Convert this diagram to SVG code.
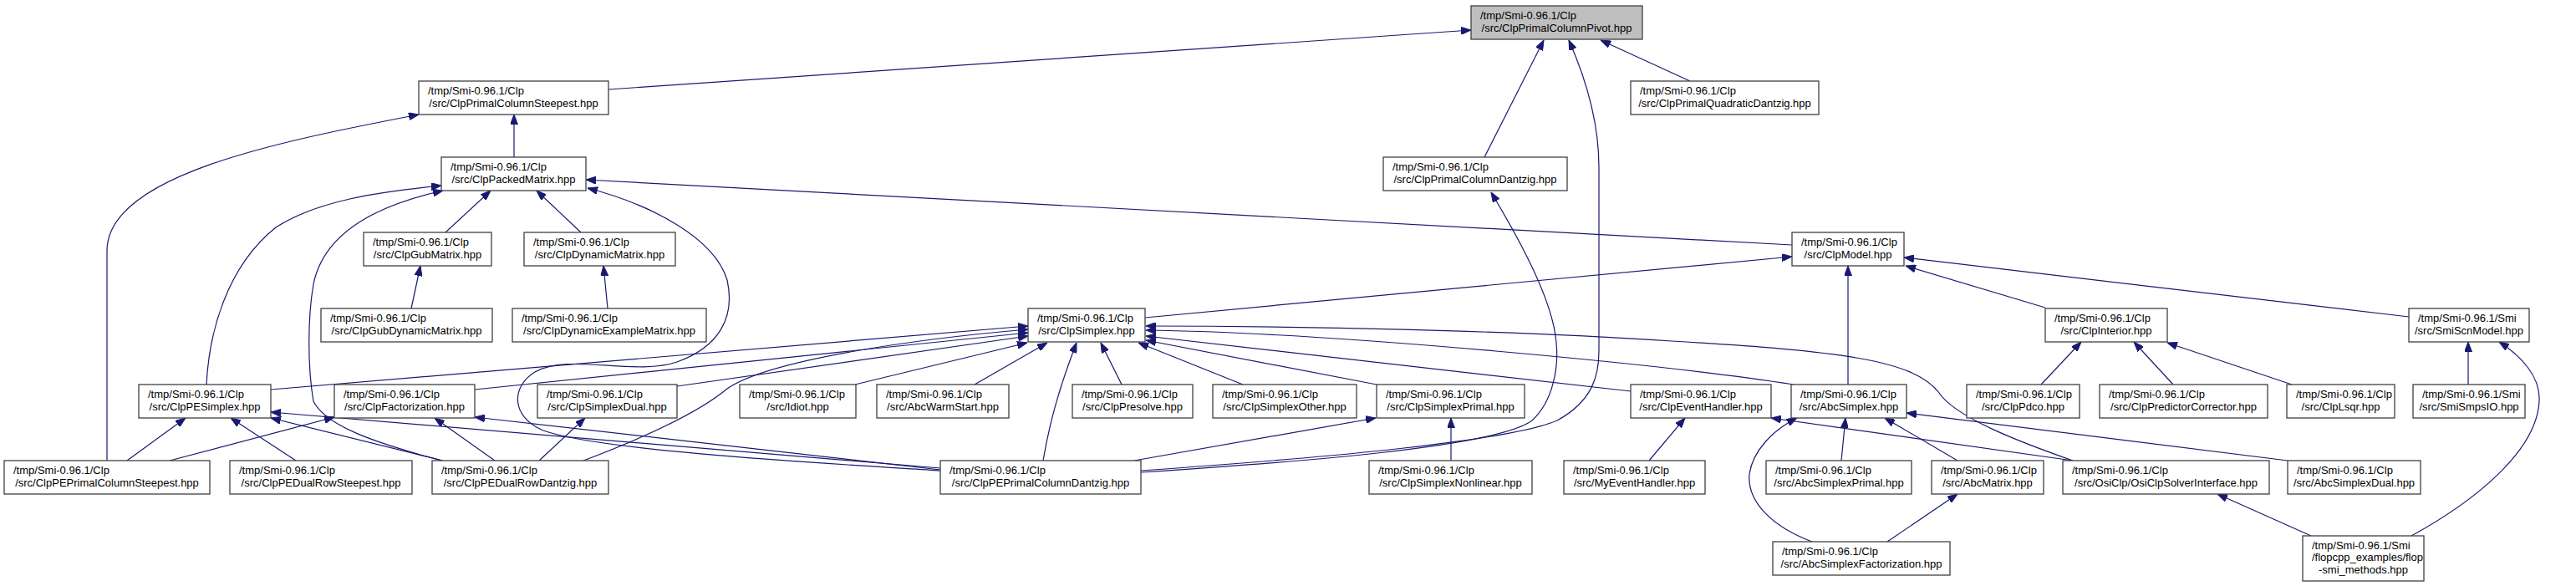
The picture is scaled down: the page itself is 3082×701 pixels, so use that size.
<svg xmlns="http://www.w3.org/2000/svg" width="3082" height="701" viewBox="0 0 3082 701">
<style>
.n rect{fill:#ffffff;stroke:#404040;stroke-width:1.3}
.n.root rect{fill:#bfbfbf}
.n text{font-family:"Liberation Sans",Arial,Helvetica,sans-serif;font-size:13px;fill:#000}
.n text.c{text-anchor:middle}
.e path{fill:none;stroke:#191970;stroke-width:1.2;marker-end:url(#ah)}
</style>
<defs>
<marker id="ah" viewBox="0 0 12 9" refX="12" refY="4.5" markerWidth="12" markerHeight="9" markerUnits="userSpaceOnUse" orient="auto">
<path d="M0,0 L12,4.5 L0,9 z" fill="#191970" stroke="#191970" stroke-width="1"/>
</marker>
</defs>
<rect x="0" y="0" width="3082" height="701" fill="#ffffff"/>
<g id="edges" class="e">
<path d="M728,107 L1760,36"/>
<path d="M1776,188 L1847,48"/>
<path d="M2022,97 L1915,48"/>
<path d="M1365,563 C1550,550 1800,530 1863,503 C1905,480 1913,450 1913,420 L1913,200 C1913,150 1900,100 1877,48"/>
<path d="M1365,565 C1550,553 1790,535 1833,503 C1858,480 1865,440 1862,410 C1858,360 1820,290 1784,230"/>
<path d="M615,188 L615,137"/>
<path d="M128,551 L128,300 C128,210 330,170 501,137"/>
<path d="M533,278 L587,228"/>
<path d="M695,278 L642,228"/>
<path d="M2144,293 L701,215"/>
<path d="M247,460 C250,400 270,320 330,272 C380,240 450,230 528,222"/>
<path d="M528,551 C450,530 390,510 375,480 C368,440 368,380 375,340 C385,290 430,250 530,228"/>
<path d="M1125,563 C1000,555 720,540 650,515 C610,498 612,462 640,445 C680,422 760,450 810,433 C860,415 880,380 870,335 C855,285 780,245 703,225"/>
<path d="M727,369 L722,318"/>
<path d="M492,369 L503,318"/>
<path d="M1370,380 L2144,307"/>
<path d="M2211,460 L2211,318"/>
<path d="M2447,368 L2280,318"/>
<path d="M2882,379 L2278,308"/>
<path d="M324,466 L1230,390"/>
<path d="M568,466 L1230,398"/>
<path d="M810,462 L1230,402"/>
<path d="M698,551 C780,520 840,490 870,465 C920,430 1100,405 1230,394"/>
<path d="M1023,460 L1229,410"/>
<path d="M1166,460 L1253,410"/>
<path d="M1248,551 C1255,510 1265,470 1288,410"/>
<path d="M1342,460 L1317,410"/>
<path d="M1487,460 L1362,410"/>
<path d="M1647,460 L1371,407"/>
<path d="M1951,468 L1371,402"/>
<path d="M2146,460 C2000,437 1600,398 1371,395"/>
<path d="M2480,551 C2420,530 2340,500 2320,470 C2290,430 2200,420 2000,408 C1800,395 1550,390 1371,390"/>
<path d="M1736,551 L1736,500"/>
<path d="M1357,551 L1646,500"/>
<path d="M1973,551 L2016,500"/>
<path d="M2480,551 L2119,500"/>
<path d="M2168,648 C2120,630 2090,600 2093,567 C2097,540 2120,515 2150,500"/>
<path d="M2203,551 L2208,500"/>
<path d="M2342,551 L2255,500"/>
<path d="M2737,551 L2281,494"/>
<path d="M2258,648 L2342,591"/>
<path d="M2442,460 L2490,409"/>
<path d="M2600,460 L2553,409"/>
<path d="M2742,460 L2593,410"/>
<path d="M2953,460 L2953,409"/>
<path d="M2885,641 C2960,600 3035,540 3038,480 C3040,450 3015,425 2990,409"/>
<path d="M2765,641 L2653,591"/>
<path d="M152,551 L222,500"/>
<path d="M354,551 L276,500"/>
<path d="M530,551 L324,500"/>
<path d="M1125,560 L324,493"/>
<path d="M203,551 L400,499"/>
<path d="M592,551 L520,500"/>
<path d="M1125,562 L568,499"/>
<path d="M645,551 L700,500"/>
</g>
<g id="pivot" class="n root"><rect x="1760" y="7" width="205" height="40"/><text x="1771" y="23">/tmp/Smi-0.96.1/Clp</text><text class="c" x="1862.5" y="38">/src/ClpPrimalColumnPivot.hpp</text></g>
<g id="steepest" class="n"><rect x="501" y="97" width="227" height="40"/><text x="512" y="113">/tmp/Smi-0.96.1/Clp</text><text class="c" x="614.5" y="128">/src/ClpPrimalColumnSteepest.hpp</text></g>
<g id="quaddantzig" class="n"><rect x="1951" y="97" width="225" height="40"/><text x="1962" y="113">/tmp/Smi-0.96.1/Clp</text><text class="c" x="2063.5" y="128">/src/ClpPrimalQuadraticDantzig.hpp</text></g>
<g id="packed" class="n"><rect x="528" y="188" width="173" height="40"/><text x="539" y="204">/tmp/Smi-0.96.1/Clp</text><text class="c" x="614.5" y="219">/src/ClpPackedMatrix.hpp</text></g>
<g id="pcdantzig" class="n"><rect x="1655" y="188" width="220" height="40"/><text x="1666" y="204">/tmp/Smi-0.96.1/Clp</text><text class="c" x="1765" y="219">/src/ClpPrimalColumnDantzig.hpp</text></g>
<g id="gub" class="n"><rect x="435" y="278" width="153" height="40"/><text x="446" y="294">/tmp/Smi-0.96.1/Clp</text><text class="c" x="511.5" y="309">/src/ClpGubMatrix.hpp</text></g>
<g id="dynamic" class="n"><rect x="627" y="278" width="181" height="40"/><text x="638" y="294">/tmp/Smi-0.96.1/Clp</text><text class="c" x="717.5" y="309">/src/ClpDynamicMatrix.hpp</text></g>
<g id="model" class="n"><rect x="2144" y="278" width="134" height="40"/><text x="2155" y="294">/tmp/Smi-0.96.1/Clp</text><text class="c" x="2211" y="309">/src/ClpModel.hpp</text></g>
<g id="gubdyn" class="n"><rect x="384" y="369" width="205" height="40"/><text x="395" y="385">/tmp/Smi-0.96.1/Clp</text><text class="c" x="486.5" y="400">/src/ClpGubDynamicMatrix.hpp</text></g>
<g id="dynex" class="n"><rect x="613" y="369" width="232" height="40"/><text x="624" y="385">/tmp/Smi-0.96.1/Clp</text><text class="c" x="729" y="400">/src/ClpDynamicExampleMatrix.hpp</text></g>
<g id="simplex" class="n"><rect x="1230" y="369" width="140" height="40"/><text x="1241" y="385">/tmp/Smi-0.96.1/Clp</text><text class="c" x="1300" y="400">/src/ClpSimplex.hpp</text></g>
<g id="interior" class="n"><rect x="2447" y="369" width="146" height="40"/><text x="2458" y="385">/tmp/Smi-0.96.1/Clp</text><text class="c" x="2520" y="400">/src/ClpInterior.hpp</text></g>
<g id="smiscn" class="n"><rect x="2882" y="369" width="144" height="40"/><text x="2893" y="385">/tmp/Smi-0.96.1/Smi</text><text class="c" x="2954" y="400">/src/SmiScnModel.hpp</text></g>
<g id="pesimplex" class="n"><rect x="166" y="460" width="158" height="40"/><text x="177" y="476">/tmp/Smi-0.96.1/Clp</text><text class="c" x="245" y="491">/src/ClpPESimplex.hpp</text></g>
<g id="factorization" class="n"><rect x="400" y="460" width="168" height="40"/><text x="411" y="476">/tmp/Smi-0.96.1/Clp</text><text class="c" x="484" y="491">/src/ClpFactorization.hpp</text></g>
<g id="simplexdual" class="n"><rect x="643" y="460" width="167" height="40"/><text x="654" y="476">/tmp/Smi-0.96.1/Clp</text><text class="c" x="726.5" y="491">/src/ClpSimplexDual.hpp</text></g>
<g id="idiot" class="n"><rect x="885" y="460" width="139" height="40"/><text x="896" y="476">/tmp/Smi-0.96.1/Clp</text><text class="c" x="954.5" y="491">/src/Idiot.hpp</text></g>
<g id="abcwarm" class="n"><rect x="1049" y="460" width="158" height="40"/><text x="1060" y="476">/tmp/Smi-0.96.1/Clp</text><text class="c" x="1128" y="491">/src/AbcWarmStart.hpp</text></g>
<g id="presolve" class="n"><rect x="1283" y="460" width="144" height="40"/><text x="1294" y="476">/tmp/Smi-0.96.1/Clp</text><text class="c" x="1355" y="491">/src/ClpPresolve.hpp</text></g>
<g id="simplexother" class="n"><rect x="1451" y="460" width="172" height="40"/><text x="1462" y="476">/tmp/Smi-0.96.1/Clp</text><text class="c" x="1537" y="491">/src/ClpSimplexOther.hpp</text></g>
<g id="simplexprimal" class="n"><rect x="1647" y="460" width="177" height="40"/><text x="1658" y="476">/tmp/Smi-0.96.1/Clp</text><text class="c" x="1735.5" y="491">/src/ClpSimplexPrimal.hpp</text></g>
<g id="eventhandler" class="n"><rect x="1951" y="460" width="168" height="40"/><text x="1962" y="476">/tmp/Smi-0.96.1/Clp</text><text class="c" x="2035" y="491">/src/ClpEventHandler.hpp</text></g>
<g id="abcsimplex" class="n"><rect x="2143" y="460" width="138" height="40"/><text x="2154" y="476">/tmp/Smi-0.96.1/Clp</text><text class="c" x="2212" y="491">/src/AbcSimplex.hpp</text></g>
<g id="pdco" class="n"><rect x="2353" y="460" width="135" height="40"/><text x="2364" y="476">/tmp/Smi-0.96.1/Clp</text><text class="c" x="2420.5" y="491">/src/ClpPdco.hpp</text></g>
<g id="predcorr" class="n"><rect x="2512" y="460" width="201" height="40"/><text x="2523" y="476">/tmp/Smi-0.96.1/Clp</text><text class="c" x="2612.5" y="491">/src/ClpPredictorCorrector.hpp</text></g>
<g id="lsqr" class="n"><rect x="2736" y="460" width="129" height="40"/><text x="2747" y="476">/tmp/Smi-0.96.1/Clp</text><text class="c" x="2800.5" y="491">/src/ClpLsqr.hpp</text></g>
<g id="smps" class="n"><rect x="2887" y="460" width="134" height="40"/><text x="2898" y="476">/tmp/Smi-0.96.1/Smi</text><text class="c" x="2954" y="491">/src/SmiSmpsIO.hpp</text></g>
<g id="pepcsteep" class="n"><rect x="5" y="551" width="246" height="40"/><text x="16" y="567">/tmp/Smi-0.96.1/Clp</text><text class="c" x="128" y="582">/src/ClpPEPrimalColumnSteepest.hpp</text></g>
<g id="pedrsteep" class="n"><rect x="275" y="551" width="218" height="40"/><text x="286" y="567">/tmp/Smi-0.96.1/Clp</text><text class="c" x="384" y="582">/src/ClpPEDualRowSteepest.hpp</text></g>
<g id="pedrdantzig" class="n"><rect x="517" y="551" width="211" height="40"/><text x="528" y="567">/tmp/Smi-0.96.1/Clp</text><text class="c" x="622.5" y="582">/src/ClpPEDualRowDantzig.hpp</text></g>
<g id="pepcdantzig" class="n"><rect x="1125" y="551" width="240" height="40"/><text x="1136" y="567">/tmp/Smi-0.96.1/Clp</text><text class="c" x="1245" y="582">/src/ClpPEPrimalColumnDantzig.hpp</text></g>
<g id="nonlinear" class="n"><rect x="1638" y="551" width="195" height="40"/><text x="1649" y="567">/tmp/Smi-0.96.1/Clp</text><text class="c" x="1735.5" y="582">/src/ClpSimplexNonlinear.hpp</text></g>
<g id="myevent" class="n"><rect x="1871" y="551" width="169" height="40"/><text x="1882" y="567">/tmp/Smi-0.96.1/Clp</text><text class="c" x="1955.5" y="582">/src/MyEventHandler.hpp</text></g>
<g id="abcprimal" class="n"><rect x="2113" y="551" width="174" height="40"/><text x="2124" y="567">/tmp/Smi-0.96.1/Clp</text><text class="c" x="2200" y="582">/src/AbcSimplexPrimal.hpp</text></g>
<g id="abcmatrix" class="n"><rect x="2311" y="551" width="134" height="40"/><text x="2322" y="567">/tmp/Smi-0.96.1/Clp</text><text class="c" x="2378" y="582">/src/AbcMatrix.hpp</text></g>
<g id="osi" class="n"><rect x="2468" y="551" width="247" height="40"/><text x="2479" y="567">/tmp/Smi-0.96.1/Clp</text><text class="c" x="2591.5" y="582">/src/OsiClp/OsiClpSolverInterface.hpp</text></g>
<g id="abcdual" class="n"><rect x="2737" y="551" width="159" height="40"/><text x="2748" y="567">/tmp/Smi-0.96.1/Clp</text><text class="c" x="2816.5" y="582">/src/AbcSimplexDual.hpp</text></g>
<g id="abcfact" class="n"><rect x="2121" y="648" width="212" height="40"/><text x="2132" y="664">/tmp/Smi-0.96.1/Clp</text><text class="c" x="2227" y="679">/src/AbcSimplexFactorization.hpp</text></g>
<g id="flop" class="n"><rect x="2755" y="641" width="145" height="54"/><text x="2766" y="657">/tmp/Smi-0.96.1/Smi</text><text x="2766" y="671">/flopcpp_examples/flop</text><text class="c" x="2827.5" y="686">-smi_methods.hpp</text></g>
</svg>
